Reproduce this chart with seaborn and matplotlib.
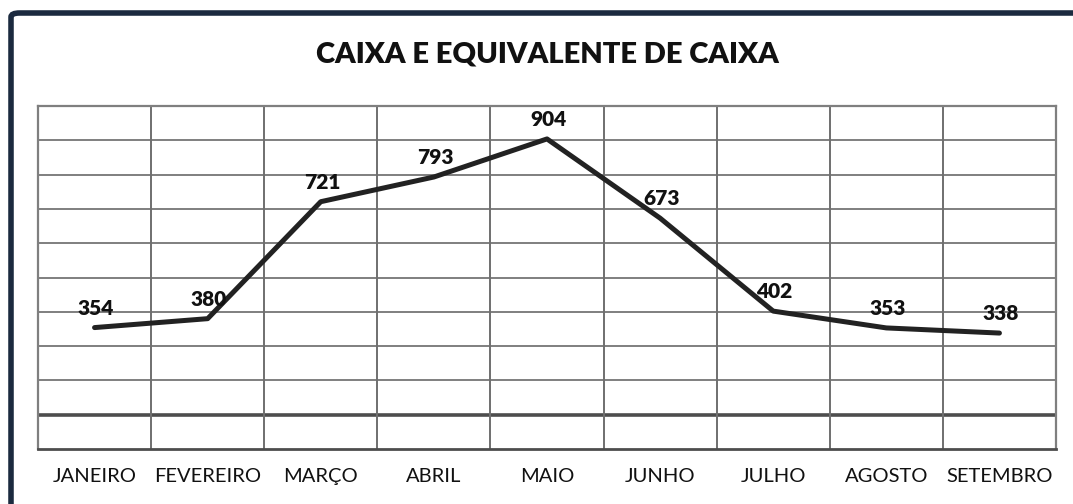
import matplotlib
matplotlib.use("Agg")
import matplotlib.pyplot as plt
import numpy as np
import pandas as pd
import seaborn as sns
from matplotlib.patches import FancyBboxPatch

# Data
meses = ["JANEIRO", "FEVEREIRO", "MARÇO", "ABRIL", "MAIO",
         "JUNHO", "JULHO", "AGOSTO", "SETEMBRO"]
valores = [354, 380, 721, 793, 904, 673, 402, 353, 338]

df = pd.DataFrame({"mes": meses, "valor": valores})
df["pos"] = np.arange(len(meses))

sns.set_style("white")
plt.rcParams["font.family"] = ["Lato", "DejaVu Sans"]

fig = plt.figure(figsize=(10.73, 5.04), dpi=100)
ax = fig.add_axes([38 / 1073, 1 - 449 / 504, (1056 - 38) / 1073, (449 - 106) / 504])

# navy frame (only top and left visible)
frame = FancyBboxPatch((11 / 1073, -0.2), 1.2, 1.2 - 13 / 504,
                       boxstyle="round,pad=0,rounding_size=0.008",
                       transform=fig.transFigure, fill=False,
                       edgecolor="#1b2a3f", linewidth=4, zorder=0)
fig.patches.append(frame)

sns.lineplot(data=df, x="pos", y="valor", ax=ax, color="#222222",
             linewidth=3.6, solid_capstyle="round", solid_joinstyle="round",
             zorder=5)

ax.set_xlim(-0.5, len(meses) - 0.5)
ax.set_ylim(0, 1000)

# grid
for y in range(100, 1000, 100):
    if y == 100:
        ax.axhline(y, color="#4d4d4d", linewidth=2.6, zorder=1)
    else:
        ax.axhline(y, color="#7f7f7f", linewidth=1.4, zorder=1)
for x in np.arange(0.5, len(meses) - 0.5, 1):
    ax.axvline(x, color="#6f6f6f", linewidth=1.4, zorder=1)

for side in ["top", "left", "right"]:
    ax.spines[side].set_color("#7f7f7f")
    ax.spines[side].set_linewidth(1.6)
    ax.spines[side].set_visible(True)
ax.spines["bottom"].set_color("#4d4d4d")
ax.spines["bottom"].set_linewidth(2.0)
ax.spines["bottom"].set_visible(True)

ax.set_xticks(df["pos"])
ax.set_xticklabels(meses, fontsize=14.5, color="#111111")
ax.tick_params(axis="x", length=0, pad=14)
ax.set_yticks([])
ax.set_xlabel("")
ax.set_ylabel("")

for x, v in zip(df["pos"], df["valor"]):
    ax.annotate(str(v), (x, v), xytext=(1, 7), textcoords="offset points",
                ha="center", va="bottom", fontsize=15, fontweight="heavy",
                color="#111111", zorder=6)

fig.text(0.51, 1 - 55 / 504, "CAIXA E EQUIVALENTE DE CAIXA", ha="center",
         va="center", fontsize=21, fontweight="heavy", color="#111111")

fig.savefig("out.png", dpi=100)
